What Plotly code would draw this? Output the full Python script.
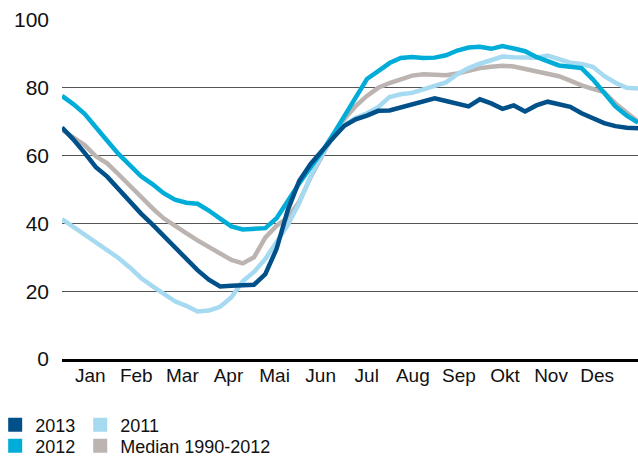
import plotly.graph_objects as go

# weekly values, week 1..52
weeks = list(range(1, 53))

y2013 = [68.3, 64.8, 60.8, 56.6, 53.8, 50.0, 46.3, 42.9, 39.7, 36.3, 33.0, 29.3, 26.2,
         23.4, 21.4, 21.6, 21.8, 21.9, 25.0, 32.5, 44.0, 52.5, 57.5, 61.5, 65.2, 68.8,
         70.7, 71.8, 73.2, 73.3, 74.2, 75.2, 76.3, 76.9, 76.1, 75.2, 74.5, 76.6, 75.4,
         73.8, 74.8, 73.0, 74.8, 75.9, 75.3, 74.4, 72.5, 71.0, 69.6, 68.7, 68.2, 68.1]

y2012 = [77.6, 75.2, 72.3, 68.6, 64.4, 60.5, 57.1, 53.9, 51.6, 48.9, 47.0, 46.1, 45.8,
         43.8, 41.4, 39.1, 38.2, 38.4, 38.6, 41.5, 46.8, 51.8, 56.5, 61.0, 66.2, 71.5,
         77.0, 82.6, 84.9, 87.3, 88.8, 89.1, 88.8, 88.9, 89.6, 91.0, 91.9, 92.1, 91.5,
         92.3, 91.6, 90.8, 89.1, 87.8, 86.6, 86.2, 85.8, 82.5, 78.7, 74.5, 71.8, 69.7]

y2011 = [41.3, 39.0, 36.7, 34.5, 32.1, 29.8, 27.0, 23.9, 21.5, 19.2, 17.0, 15.7, 14.0,
         14.3, 15.4, 18.2, 22.9, 25.7, 29.5, 34.5, 39.6, 46.0, 53.8, 60.2, 65.7, 69.1,
         71.1, 72.5, 74.3, 77.3, 78.1, 78.5, 79.5, 80.4, 81.6, 84.0, 85.8, 87.1, 88.2,
         89.2, 89.0, 89.1, 88.9, 89.5, 88.4, 87.4, 87.0, 86.2, 83.5, 81.5, 80.0, 79.8]

median = [67.6, 65.3, 63.1, 59.8, 57.7, 54.5, 51.1, 47.8, 44.5, 41.5, 39.1, 37.1, 35.0,
          33.0, 31.3, 29.2, 28.2, 30.0, 35.8, 39.3, 41.7, 46.4, 53.5, 60.0, 66.0, 70.8,
          74.6, 77.6, 80.0, 81.4, 82.4, 83.6, 84.0, 83.9, 83.7, 84.2, 85.1, 85.8, 86.2,
          86.5, 86.3, 85.5, 84.7, 84.2, 83.4, 82.1, 80.7, 79.7, 78.7, 75.4, 72.5, 70.0]

months = ['Jan', 'Feb', 'Mar', 'Apr', 'Mai', 'Jun', 'Jul', 'Aug', 'Sep', 'Okt', 'Nov', 'Des']

C2013 = '#00508a'
C2012 = '#00acd8'
C2011 = '#a6daf0'
CMED = '#bbb4b1'
FONT = 'Liberation Sans, Arial, sans-serif'

fig = go.Figure()

# drawing order: median at the bottom, 2013 on top
for name, ys, col in [('Median 1990-2012', median, CMED), ('2011', y2011, C2011),
                      ('2012', y2012, C2012), ('2013', y2013, C2013)]:
    fig.add_trace(go.Scatter(x=weeks, y=ys, mode='lines', name=name,
                             line=dict(color=col, width=4.5), showlegend=False))

# square legend entries, two rows
for name, col, leg in [('2013', C2013, 'legend'), ('2011', C2011, 'legend'),
                       ('2012', C2012, 'legend2'), ('Median 1990-2012', CMED, 'legend2')]:
    fig.add_trace(go.Scatter(x=[None], y=[None], mode='markers', name=name, legend=leg,
                             marker=dict(symbol='square', size=14, color=col)))

tick_pos = [3.5 + 4.08 * i for i in range(12)]

leg_style = dict(orientation='h', xref='paper', yref='container', x=-0.116,
                 xanchor='left', yanchor='middle', font=dict(size=18, color='#111', family=FONT),
                 bgcolor='rgba(0,0,0,0)', itemclick=False, tracegroupgap=0)

fig.update_layout(
    width=638, height=456,
    margin=dict(l=62, r=0, t=20, b=97, autoexpand=False),
    paper_bgcolor='white', plot_bgcolor='white',
    font=dict(family=FONT, color='#111'),
    xaxis=dict(range=[1, 52], tickvals=tick_pos, ticktext=months, showgrid=False,
               zeroline=False, showline=True, linecolor='black', linewidth=3,
               ticks='', tickfont=dict(size=19), ticklabelstandoff=-3),
    yaxis=dict(range=[0, 100], tickvals=[0, 20, 40, 60, 80, 100], showgrid=True,
               gridcolor='#555', gridwidth=1.2, zeroline=False, showline=False,
               ticks='', tickfont=dict(size=21), ticklabelstandoff=12),
    legend=dict(y=(456 - 425) / 456, **leg_style),
    legend2=dict(y=(456 - 446) / 456, **leg_style),
)

fig.write_html("out.html", config={'displayModeBar': False},
               post_script="document.body.style.margin='0';")
